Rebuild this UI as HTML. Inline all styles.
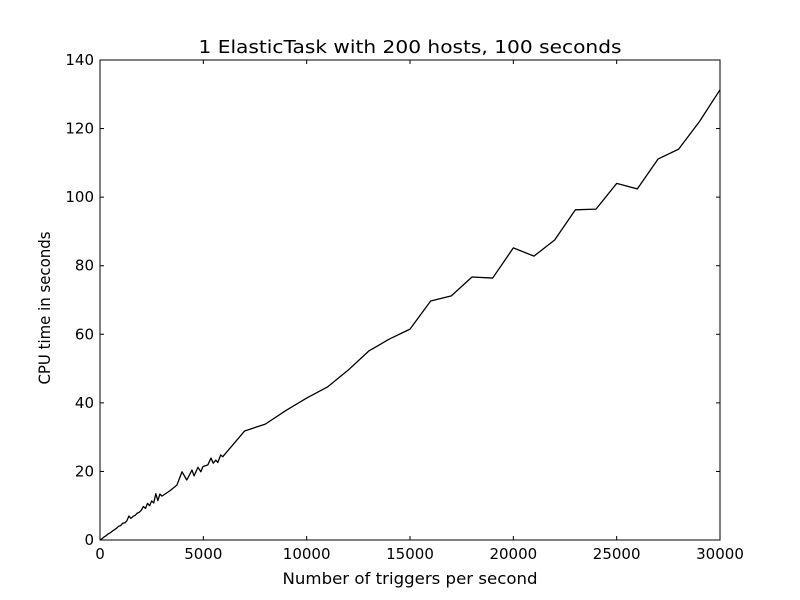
<!DOCTYPE html>
<html><head><meta charset="utf-8"><style>
body{margin:0;background:#fff;}
svg{display:block;font-family:"DejaVu Sans","Liberation Sans",sans-serif;}
</style></head><body>
<svg id="chart" width="800" height="600">
<rect x="0" y="0" width="800" height="600" fill="#fff"/>
<text x="410" y="53" font-size="18" text-anchor="middle" textLength="423" lengthAdjust="spacingAndGlyphs">1 ElasticTask with 200 hosts, 100 seconds</text>
<text x="410" y="584" font-size="16" text-anchor="middle" textLength="255" lengthAdjust="spacingAndGlyphs">Number of triggers per second</text>
<text x="50" y="308" font-size="16" text-anchor="middle" textLength="153" lengthAdjust="spacingAndGlyphs" transform="rotate(-90 50 308)">CPU time in seconds</text>
<g id="marks"></g>
<rect x="100" y="60" width="620" height="480" fill="none" stroke="#000" stroke-width="1"/>
</svg>
<script>
const xTicks = [0, 5000, 10000, 15000, 20000, 25000, 30000];
const yTicks = [0, 20, 40, 60, 80, 100, 120, 140];
const xValues = [0,100,200,300,400,500,600,700,800,900,1000,1100,1200,1300,1400,1500,1600,1700,1800,1900,2000,2100,2200,2300,2400,2500,2600,2700,2800,2900,3000,
3390,3720,3970,4200,4450,4550,4740,4880,4980,5220,5370,5480,5600,5700,5840,5940,
7000,8000,9000,10000,11000,12000,13000,14000,15000,16000,17000,18000,19000,20000,21000,22000,23000,24000,25000,26000,27000,28000,29000,30000];
const cpuValues = [0,0.4,0.9,1.3,1.8,2.1,2.6,3.0,3.4,4.0,4.2,4.9,5.0,5.6,7.0,6.3,6.9,7.2,7.8,8.1,8.7,9.8,9.2,10.7,10.0,11.4,10.8,13.5,11.5,13.4,12.8,
14.4,16.0,19.9,17.5,20.4,18.7,21.2,19.9,21.4,21.9,23.9,22.4,23.3,22.6,24.8,24.3,
31.8,33.8,37.8,41.4,44.6,49.5,55.1,58.6,61.5,69.7,71.2,76.7,76.4,85.2,82.8,87.5,96.3,96.5,104,102.4,111.1,114,122,131.3];

const X0=100,X1=720,Y0=540,Y1=60;
const xs = v => X0 + (v-0)/(30000)*(X1-X0);
const ys = v => Y0 - v/140*(Y0-Y1);
const NS='http://www.w3.org/2000/svg';
const g=document.getElementById('marks');
function mk(tag,attrs){const e=document.createElementNS(NS,tag);for(const k in attrs)e.setAttribute(k,attrs[k]);g.appendChild(e);return e;}

xTicks.forEach(t=>{
  const x=xs(t);
  const a=mk('line',{x1:x,x2:x,y1:Y0,y2:Y0-4,stroke:'#000'});
  
  
  const b=mk('line',{x1:x,x2:x,y1:Y1,y2:Y1+4,stroke:'#000'});
  
  
  const l=mk('text',{x:x,y:Y0+19,'font-size':15,'text-anchor':'middle'});
  l.textContent=t;
  
  
});
yTicks.forEach(t=>{
  const y=ys(t);
  const a=mk('line',{x1:X0,x2:X0+4,y1:y,y2:y,stroke:'#000'});
  
  
  const b=mk('line',{x1:X1,x2:X1-4,y1:y,y2:y,stroke:'#000'});
  
  
  const l=mk('text',{x:X0-6,y:y+5,'font-size':15,'text-anchor':'end'});
  l.textContent=t;
  
  
});
const pts=xValues.map((v,i)=>xs(v).toFixed(2)+','+ys(cpuValues[i]).toFixed(2)).join(' ');
const line=mk('polyline',{points:pts,fill:'none',stroke:'#000','stroke-width':1.3,'stroke-linejoin':'round'});


</script>
</body></html>
